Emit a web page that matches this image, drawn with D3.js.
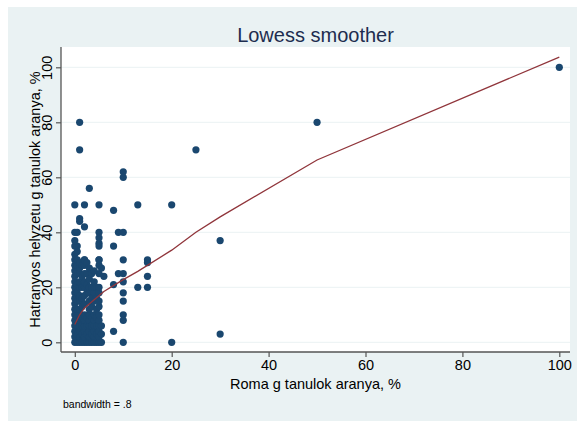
<!DOCTYPE html>
<html><head><meta charset="utf-8">
<script src="https://cdn.jsdelivr.net/npm/d3@7"></script>
<style>body{margin:0;background:#fff}svg{display:block}</style>
</head><body>
<script>
// Observations: Roma students share (x) vs disadvantaged students share (y)
const roma = [
 1,1,3,10,10,25,50,100,
 0,2,5,13,20,8,1,1,2,
 0,0.5,5,9,10,5,5,5,8,0.5,
 2,5,10,15,15,30,
 5,6,9,10,15,8,10,13,15,
 10,10,10,10,10,8,30,20,
 0,0,0,0,0,0,0,0,0,0,0,0,0,0,0,0,0,0,0,
 0.5,0.5,0.5,0.5,0.5,0.5,0.5,0.5,0.5,0.5,0.5,0.5,
 1,1,1,1,1,1,1,1,1,1,1,1,1,1,
 1.5,1.5,1.5,1.5,1.5,1.5,1.5,1.5,1.5,
 2,2,2,2,2,2,2,2,2,2,2,2,2,
 2.5,2.5,2.5,2.5,2.5,2.5,2.5,2.5,
 3,3,3,3,3,3,3,3,3,3,3,3,
 3.5,3.5,3.5,3.5,3.5,3.5,3.5,3.5,
 4,4,4,4,4,4,4,4,4,4,4,
 4.5,4.5,4.5,4.5,4.5,4.5,4.5,
 5,5,5,5,5,5,5,5,5,5,5,5,
 5.5,5.5,5.5,5.5
];
const hatr = [
 80,70,56,62,60,70,80,100,
 50,50,50,50,50,48,45,44,42,
 40,40,40,40,40,38,36,35,35,35,
 30,30,30,30,29,37,
 25,24,25,25,24,21,22,20,20,
 18,15,10,8,0,4,3,0,
 0,2,4,6,8,10,12,14,16,18,20,22,24,26,28,30,32,35,37,
 0,3,6,9,12,15,18,21,25,28,30,33,
 0,2,4,6,8,10,12,15,17,20,22,25,27,29,
 0,3,6,9,13,16,20,24,28,
 0,2,4,6,8,10,14,17,20,22,25,28,30,
 0,3,6,9,18,21,25,29,
 0,2,4,6,8,10,12,15,18,20,23,27,
 0,3,6,9,13,16,20,25,
 0,2,4,6,8,10,15,18,20,22,26,
 0,3,6,9,12,16,20,
 0,2,4,6,8,10,13,15,18,20,28,30,
 0,3,6,27
];
// Lowess fitted curve (bandwidth .8)
const lowX = [0,1,2,4,6,10,13,20,25,30,50,100];
const lowY = [6.5,10,12.5,15.5,18.5,22.8,25.8,33.5,40,45.6,66.3,103.7];

const xTicks = [0,20,40,60,80,100];
const yTicks = [0,20,40,60,80,100];

const W = 577, H = 421;
const svg = d3.select("body").append("svg").attr("width", W).attr("height", H);
const font = "'Liberation Sans', Arial, Helvetica, sans-serif";

// outer graph region
svg.append("rect").attr("x", 8).attr("y", 7).attr("width", W - 8).attr("height", H - 7).attr("fill", "#eaf2f3");

const pl = 61, pr = 570, pt = 47, pb = 352;
svg.append("rect").attr("x", pl).attr("y", pt).attr("width", pr - pl).attr("height", pb - pt).attr("fill", "#ffffff");

const x = d3.scaleLinear().domain([0, 100]).range([74.8, 559.3]);
const y = d3.scaleLinear().domain([0, 100]).range([342.3, 67.3]);

// grid
svg.append("g").selectAll("line").data(yTicks).join("line")
  .attr("x1", pl).attr("x2", pr).attr("y1", d => y(d)).attr("y2", d => y(d))
  .attr("stroke", "#eaf2f3").attr("stroke-width", 1);

// axes
const gx = svg.append("g").attr("transform", `translate(0,${pb})`)
  .call(d3.axisBottom(x).tickValues(xTicks).tickSize(5).tickPadding(3).tickFormat(d3.format("d")));
gx.select(".domain").attr("d", `M${pl},0H${pr}`).attr("stroke", "#555").attr("stroke-width", 1.3);
gx.selectAll(".tick line").attr("stroke", "#555").attr("stroke-width", 1.2);
gx.selectAll(".tick text").attr("font-family", font).attr("font-size", 14.5).attr("fill", "#000");

const gy = svg.append("g").attr("transform", `translate(${pl},0)`)
  .call(d3.axisLeft(y).tickValues(yTicks).tickSize(5).tickFormat(d3.format("d")));
gy.select(".domain").attr("d", `M0,${pt}V${pb}`).attr("stroke", "#555").attr("stroke-width", 1.3);
gy.selectAll(".tick line").attr("stroke", "#555").attr("stroke-width", 1.2);
gy.selectAll(".tick text").attr("font-family", font).attr("font-size", 14.5).attr("fill", "#000")
  .attr("x", null).attr("dy", null)
  .attr("text-anchor", "middle")
  .attr("transform", "translate(-9,0) rotate(-90)");

// points
svg.append("g").selectAll("circle").data(roma.map((v, i) => [v, hatr[i]])).join("circle")
  .attr("cx", d => x(d[0])).attr("cy", d => y(d[1])).attr("r", 3.6).attr("fill", "#1a476f");

// lowess line
svg.append("path").datum(lowX.map((v, i) => [v, lowY[i]]))
  .attr("d", d3.line().x(d => x(d[0])).y(d => y(d[1])))
  .attr("fill", "none").attr("stroke", "#90353b").attr("stroke-width", 1.3);

// texts
svg.append("text").attr("x", (pl + pr) / 2).attr("y", 42).attr("text-anchor", "middle")
  .attr("font-family", font).attr("font-size", 20).attr("fill", "#1e2d4f").text("Lowess smoother");
svg.append("text").attr("x", (pl + pr) / 2).attr("y", 389).attr("text-anchor", "middle")
  .attr("font-family", font).attr("font-size", 14.5).attr("fill", "#000").text("Roma g tanulok aranya, %");
svg.append("text").attr("transform", `translate(40,${(pt + pb) / 2}) rotate(-90)`).attr("text-anchor", "middle")
  .attr("font-family", font).attr("font-size", 14.5).attr("fill", "#000").text("Hatranyos helyzetu g tanulok aranya, %");
svg.append("text").attr("x", 63).attr("y", 408)
  .attr("font-family", font).attr("font-size", 10.5).attr("fill", "#000").text("bandwidth = .8");
</script>
</body></html>
